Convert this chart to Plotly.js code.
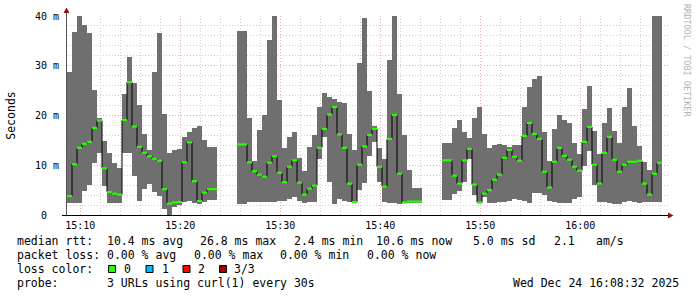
<!DOCTYPE html>
<html><head><meta charset="utf-8">
<script src="https://cdn.plot.ly/plotly-3.0.1.min.js"></script>
<style>html,body{margin:0;padding:0;background:#fff}#chart{width:697px;height:297px}
#chart .bars path, #chart path.js-fill{shape-rendering:crispEdges}</style>
</head><body><div id="chart"></div>
<script>
// ---- data (ms), one value per 30 s sample; null = no data ----
const sampleStart = Date.UTC(2025, 11, 24, 15, 8, 40);
const sampleStepMs = 30000;
const minRtt = [2.5,2.5,2.5,4.9,6.1,10.4,12.5,5.9,2.5,2.5, 2.5,12.5,12.5,7.9,2.9,5.2,6.3,4.7,3.9,1.2,
  0,1.7,2.0,2.7,2.8,2.5,2.3,2.7,3.0,3.0, null,null,null,null,2.2,2.2,2.6,2.7,2.6,2.6,
  2.6,2.6,2.9,2.9,3.2,3.7,2.9,2.5,2.7,2.7, 11.3,15.7,6.7,2.2,3.3,2.9,2.6,2.5,5.0,6.5,
  11.8,14.7,6.7,2.7,2.5,2.5,2.3,2.5,2.5,2.5, 2.5,null,null,null,null,3.0,3.0,4.3,4.9,6.7,
  11.3,4.1,2.5,3.7,2.5,2.5,2.6,2.7,2.9,3.3, 3.1,2.9,2.5,4.5,4.5,4.0,2.9,2.7,2.5,2.5,
  2.5,3.3,3.7,9.9,12.8,6.1,2.6,2.6,2.5,2.3, 2.3,2.6,2.8,2.7,2.5,2.6,2.6,2.6,2.6];
const maxRtt = [28.7,36.8,40,38.2,36.6,25.2,19.4,14.8,12.4,10.4, 9.4,24.4,31.8,26.6,22.2,16.2,13.0,28.8,36.6,20.4,
  12.4,13.1,13.2,15.7,16.6,17.5,17.8,15.0,13.6,13.6, null,null,null,null,37.0,37.0,19.4,10.8,17.0,20.2,
  35.2,40,23.2,13.4,15.7,16.6,11.4,8.8,13.7,16.0, 21.8,24.6,23.8,23.4,22.8,22.6,16.2,13.0,30.6,39.6,
  25.0,17.9,13.5,11.2,31.2,40,24.4,16.0,9.0,5.4, 5.4,null,null,null,null,14.4,14.4,17.5,19.1,16.6,
  15.5,19.5,21.7,16.2,13.4,14.0,14.2,14.0,13.6,14.0, 14.0,21.8,25.8,27.4,28.0,16.6,10.8,17.2,20.2,19.0,
  18.4,14.4,12.2,21.4,26.0,16.8,12.2,18.4,21.6,16.8, 14.4,21.8,25.6,17.8,13.8,10.6,9.0,40,40];
const medianRtt = [3.8,10.2,13.5,14.3,14.7,17.5,19.0,9.4,4.6,4.3, 4.1,19.1,26.7,17.8,13.7,12.5,11.8,11.3,10.9,5.2,
  2.3,2.5,2.6,10.6,14.6,6.8,2.8,4.5,5.2,5.2, null,null,null,null,14.2,14.2,10.6,8.8,8.1,7.7,
  10.5,11.8,8.5,6.6,9.7,11.0,6.5,4.1,5.3,5.9, 13.5,17.3,20.2,21.7,16.2,13.5,6.3,2.6,10.1,13.8,
  16.1,17.3,9.7,5.7,15.3,20.1,8.3,2.5,2.7,2.7, 2.7,null,null,null,null,11.0,11.0,7.9,6.3,11.0,
  13.3,6.1,2.5,4.3,5.0,7.1,8.1,11.5,13.1,11.7, 10.9,15.9,18.5,16.3,15.3,8.7,5.5,10.7,13.5,11.9,
  11.1,9.7,8.9,14.7,17.7,10.1,6.3,12.5,15.7,11.1, 8.7,10.1,10.7,10.7,10.9,6.3,4.1,8.3,10.5];
const yTickVals = [0, 10, 20, 30, 40];
const yTickText = ['0\u00a0\u00a0', '10 m', '20 m', '30 m', '40 m'];
const lossLabels = ['0', '1', '2', '3/3'];
const lossColors = ['#26ff00', '#00b8ff', '#ff0000', '#a00000'];

// ---- geometry helpers (pixel -> paper) ----
const W = 697, H = 297, L = 67, T = 16, PW = 601, PH = 199;
const px = v => (v - L) / PW;
const py = v => (T + PH - v) / PH;

const starts = minRtt.map((_, i) => sampleStart + i * sampleStepMs);
const centers = starts.map(t => t + sampleStepMs / 2);
const heights = minRtt.map((m, i) => (m == null || maxRtt[i] == null) ? null : maxRtt[i] - m);

const smoke = '#6f6f6f';
const traces = [
  {type: 'bar', x: centers, y: heights, base: minRtt, width: sampleStepMs,
   marker: {color: smoke, line: {width: 0}}, hoverinfo: 'skip', showlegend: false}
];

const segX = [], segY = [];
medianRtt.forEach((m, i) => {
  if (m == null) return;
  segX.push(starts[i], starts[i] + sampleStepMs, null);
  segY.push(m, m, null);
});
traces.push({type: 'scatter', mode: 'lines', x: starts, y: medianRtt, line: {shape: 'hv', color: '#000', width: 1},
  connectgaps: false, hoverinfo: 'skip', showlegend: false});
traces.push({type: 'scatter', mode: 'lines', x: segX, y: segY, line: {color: '#26ff00', width: 2.2},
  connectgaps: false, hoverinfo: 'skip', showlegend: false});

const mono = 'DejaVu Sans Mono';
const ann = [];
function txt(s, x, y, opts) {
  ann.push(Object.assign({text: s, xref: 'paper', yref: 'paper', x: px(x), y: py(y),
    xanchor: 'left', yanchor: 'middle', showarrow: false, borderpad: 0,
    font: {family: mono, size: 11.5, color: '#000'}}, opts || {}));
}
const legendLines = [
  [241, [['median rtt:', 16], ['10.4 ms avg', 106], ['26.8 ms max', 199], ['2.4 ms min', 292.5],
         ['10.6 ms now', 375], ['5.0 ms sd', 472], ['2.1', 553], ['am/s', 594.5]]],
  [255, [['packet loss:', 16], ['0.00 % avg', 106], ['0.00 % max', 192.5], ['0.00 % min', 279], ['0.00 % now', 366]]],
  [269, [['loss color:', 16]]],
  [283, [['probe:', 16], ['3 URLs using curl(1) every 30s', 106]]]
];
legendLines.forEach(([y, items]) => items.forEach(([s, x]) => txt(s, x, y)));
const lossTextX = [123, 160.5, 196.5, 233];
const lossBoxX = [108.5, 146, 183, 219.5];
lossLabels.forEach((s, i) => txt(s, lossTextX[i], 269));
txt('Wed Dec 24 16:08:32 2025', 680, 283, {xanchor: 'right'});
txt('RRDTOOL / TOBI OETIKER', 687, 60, {xanchor: 'center', textangle: 90,
  font: {family: mono, size: 8.5, color: '#b4b4b4'}});

const shapes = [];
lossColors.forEach((c, i) => shapes.push({type: 'rect', xref: 'paper', yref: 'paper',
  x0: px(lossBoxX[i]), x1: px(lossBoxX[i] + 7), y0: py(272.5), y1: py(265.5),
  fillcolor: c, line: {color: '#000', width: 1}}));
// axis lines and arrows
shapes.push({type: 'line', xref: 'paper', yref: 'paper', x0: px(62), x1: px(669), y0: py(215.5), y1: py(215.5),
  line: {color: '#000', width: 1}});
shapes.push({type: 'line', xref: 'paper', yref: 'paper', x0: px(66.5), x1: px(66.5), y0: py(215.5), y1: py(11),
  line: {color: '#555', width: 1}});
shapes.push({type: 'path', xref: 'paper', yref: 'paper',
  path: `M ${px(668)} ${py(212.5)} L ${px(673.5)} ${py(215.5)} L ${px(668)} ${py(218.5)} Z`,
  fillcolor: '#8c1010', line: {width: 0}});
shapes.push({type: 'path', xref: 'paper', yref: 'paper',
  path: `M ${px(63.5)} ${py(13)} L ${px(66.5)} ${py(7.5)} L ${px(69.5)} ${py(13)} Z`,
  fillcolor: '#8c1010', line: {width: 0}});

const gridMajor = '#eeaaaa', gridMinor = '#cfcfcf';
const layout = {
  width: W, height: H, margin: {l: L, r: W - L - PW, t: T, b: H - T - PH, pad: 0},
  paper_bgcolor: '#fff', plot_bgcolor: '#fff', showlegend: false, bargap: 0,
  xaxis: {type: 'date', range: [sampleStart, sampleStart + PW * 6000],
    tickformat: '%H:%M', tick0: Date.UTC(2025, 11, 24, 15, 10, 0), dtick: 600000,
    showgrid: true, gridcolor: gridMajor, griddash: '1px,2px', gridwidth: 1,
    minor: {dtick: 120000, showgrid: true, gridcolor: gridMinor, griddash: '1px,2px', gridwidth: 1},
    ticks: 'outside', ticklen: 1, tickcolor: 'rgba(0,0,0,0)', showline: false, zeroline: false,
    tickfont: {family: mono, size: 10, color: '#000'}, fixedrange: true},
  yaxis: {range: [0, 40], tickvals: yTickVals, ticktext: yTickText,
    showgrid: true, gridcolor: gridMajor, griddash: '1px,2px', gridwidth: 1,
    minor: {dtick: 2, showgrid: true, gridcolor: gridMinor, griddash: '1px,2px', gridwidth: 1},
    ticks: 'outside', ticklen: 5, tickcolor: 'rgba(0,0,0,0)', showline: false, zeroline: false,
    tickfont: {family: mono, size: 10, color: '#000'}, fixedrange: true,
    title: {text: 'Seconds', font: {family: mono, size: 11.5, color: '#000'}, standoff: 16}},
  annotations: ann, shapes: shapes
};
Plotly.newPlot('chart', traces, layout, {displayModeBar: false});
</script></body></html>
